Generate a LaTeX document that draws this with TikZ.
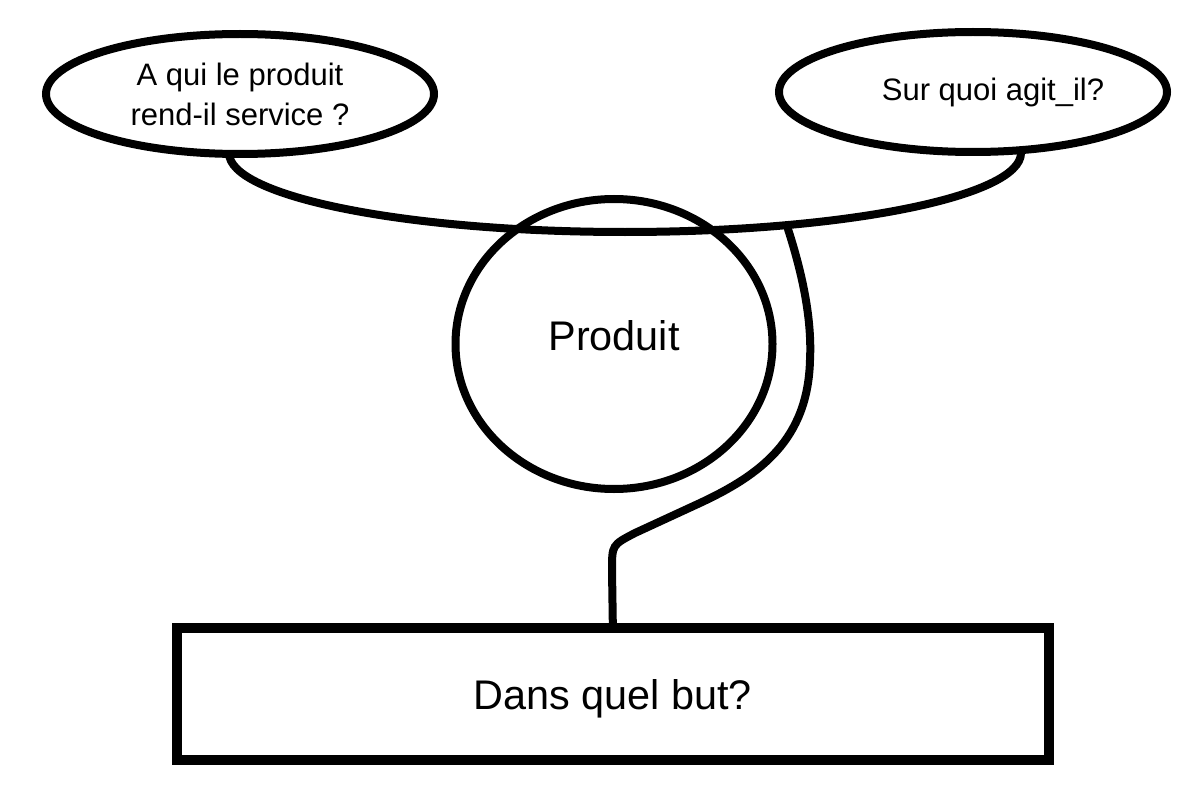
\documentclass[tikz,border=0pt]{standalone}
\usepackage{fontspec}
\setmainfont{Liberation Sans}
\usetikzlibrary{shapes,calc}

\tikzset{
  question/.style={ellipse, draw, line width=4pt, inner sep=0pt,
    minimum width=194pt, minimum height=60pt, align=center,
    font=\fontsize{15.5}{20}\selectfont},
  produit/.style={ellipse, draw, line width=4pt, inner sep=0pt,
    minimum width=158.5pt, minimum height=145pt, text depth=9pt,
    font=\fontsize{20.7}{24}\selectfont},
  goal/.style={rectangle, draw, line width=4.75pt, inner sep=0pt,
    minimum width=436pt, minimum height=66pt, text depth=0pt,
    font=\fontsize{20.7}{24}\selectfont},
  horn/.style={line width=4pt}
}

\begin{document}
\begin{tikzpicture}[x=0.5pt, y=-0.5pt]
\useasboundingbox (0,0) rectangle (1200,797);

\node [question] (A) at (240,94) {A qui le produit\\rend-il service ?};
\node [question] (S) at (973,92) {\hspace*{20pt}Sur quoi agit\_il?};
\node [produit] (P) at (614,344) {Produit};
\node [goal] (D) at (612.8,694) {Dans quel but?};

\coordinate (hA) at (229,153);
\coordinate (top) at (787,226);

\draw [horn] (hA) arc [start angle=180, end angle=0, x radius=396, y radius=79];
\draw [horn] (top) .. controls (803,275) and (812,320) .. (810,360)
  .. controls (808,440) and (760,475) .. (700,503) -- (635,533)
  .. controls (612,545) .. (612,570) -- (D.north);
\end{tikzpicture}
\end{document}
